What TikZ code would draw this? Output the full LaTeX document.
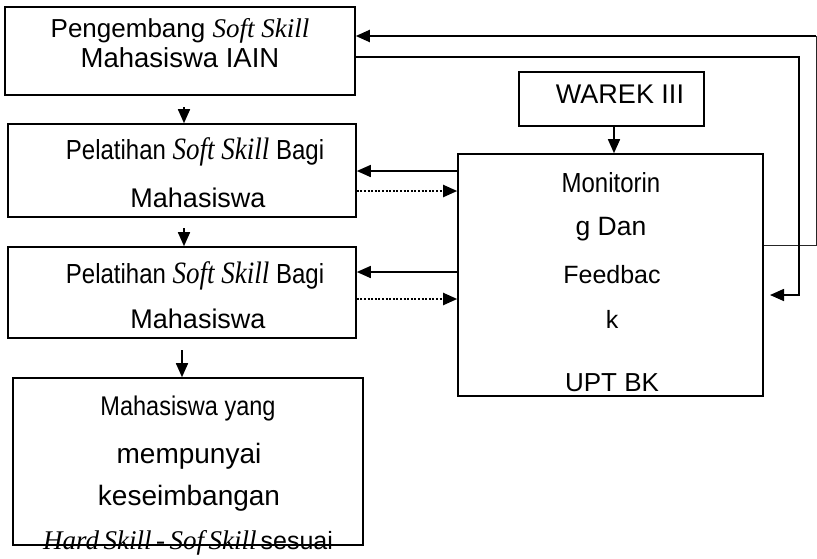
\documentclass[tikz,border=0pt]{standalone}
\usepackage{fontspec}
\usepackage{graphicx}
\setmainfont{Liberation Sans}
\newfontfamily\serfont{Liberation Serif}
\usetikzlibrary{arrows.meta}
\newcommand{\fsz}[1]{\fontsize{#1}{#1}\selectfont}
\newcommand{\skl}[1]{{\serfont\itshape\fontsize{27}{27}\selectfont #1}}
\newcommand{\tall}[1]{\scalebox{1}[1.15]{#1}}
\begin{document}
\begin{tikzpicture}[x=1pt,y=-1pt,
  box/.style={draw, line width=1.6pt, inner sep=0pt},
  txt/.style={anchor=base, inner sep=0pt},
  arr/.style={line width=1.6pt, -{Triangle[length=14pt,width=12pt]}},
  dotarr/.style={line width=2pt, dash pattern=on 2pt off 1.6pt, -{Triangle[length=14pt,width=12pt]}},
  thinline/.style={line width=0.9pt, black!85}]
\useasboundingbox (0,0) rectangle (817,558);

% boxes
\node[box, minimum width=350pt, minimum height=88pt] (b1) at (180,51) {};
\node[box, minimum width=348pt, minimum height=93pt] (b2) at (182,170.5) {};
\node[box, minimum width=348pt, minimum height=91pt] (b3) at (182,292.5) {};
\node[box, minimum width=350pt, minimum height=167pt] (b4) at (188,461.5) {};
\node[box, minimum width=185pt, minimum height=54pt] (wk) at (611.5,99) {};
\node[box, minimum width=305pt, minimum height=242pt] (mon) at (610.5,275) {};

% texts
\node[txt] (t11) at (180,37) {\fsz{26}Pengembang \skl{Soft Skill}};
\node[txt] (t12) at (180,67) {\fsz{27.5}Mahasiswa IAIN};
\node[txt] (t21) at (195,159) {\tall{\fsz{24}Pelatihan \skl{Soft Skill} Bagi}};
\node[txt] (t22) at (198,207) {\fsz{27}Mahasiswa};
\node[txt] (t31) at (195,283) {\tall{\fsz{24}Pelatihan \skl{Soft Skill} Bagi}};
\node[txt] (t32) at (198,328) {\fsz{27}Mahasiswa};
\node[txt] (t41) at (188,415) {\tall{\fsz{23.5}Mahasiswa yang}};
\node[txt] (t42) at (189,463) {\fsz{28}mempunyai};
\node[txt] (t43) at (189,505) {\fsz{28}keseimbangan};
\node[txt] (t44) at (188,549) {\fsz{25}\skl{Hard\,Skill\,-\,Sof\,Skill}\,sesuai};
\node[txt] (tw) at (620,103) {\fsz{27}WAREK III};
\node[txt] (tm1) at (611,192) {\tall{\fsz{24}Monitorin}};
\node[txt] (tm2) at (611,235) {\fsz{26.5}g Dan};
\node[txt] (tm3) at (612,283) {\fsz{25}Feedbac};
\node[txt] (tm4) at (612,328) {\fsz{25}k};
\node[txt] (tm5) at (612,391) {\fsz{26}UPT BK};

% vertical arrows
\coordinate (a1s) at (184,107);
\coordinate (a2s) at (184,228);
\coordinate (a3s) at (182,350);
\coordinate (wa) at (614,126);
\draw[arr] (a1s) -- (a1s |- b2.north);
\draw[arr] (a2s) -- (a2s |- b3.north);
\draw[arr] (a3s) -- (a3s |- b4.north);
\draw[arr] (wa) -- (wa |- mon.north);

% monitoring <-> training boxes
\coordinate (m1) at (458,171);
\coordinate (m2) at (458,191);
\coordinate (m3) at (458,272);
\coordinate (m4) at (458,299);
\draw[arr] (mon.west |- m1) -- (b2.east |- m1);
\draw[dotarr] (b2.east |- m2) -- (mon.west |- m2);
\draw[arr] (mon.west |- m3) -- (b3.east |- m3);
\draw[dotarr] (b3.east |- m4) -- (mon.west |- m4);

% outer feedback loop
\coordinate (o1) at (816,245);
\coordinate (o2) at (816,36);
\draw[thinline] (mon.east |- o1) -- (o1) -- (o2);
\draw[arr, line width=2pt] (o2) -- (b1.east |- o2);

% inner loop
\coordinate (i1) at (799,57);
\coordinate (i2) at (799,295);
\coordinate (i3) at (770,295);
\draw[arr] (b1.east |- i1) -- (i1) -- (i2) -- (i3);
\end{tikzpicture}
\end{document}
